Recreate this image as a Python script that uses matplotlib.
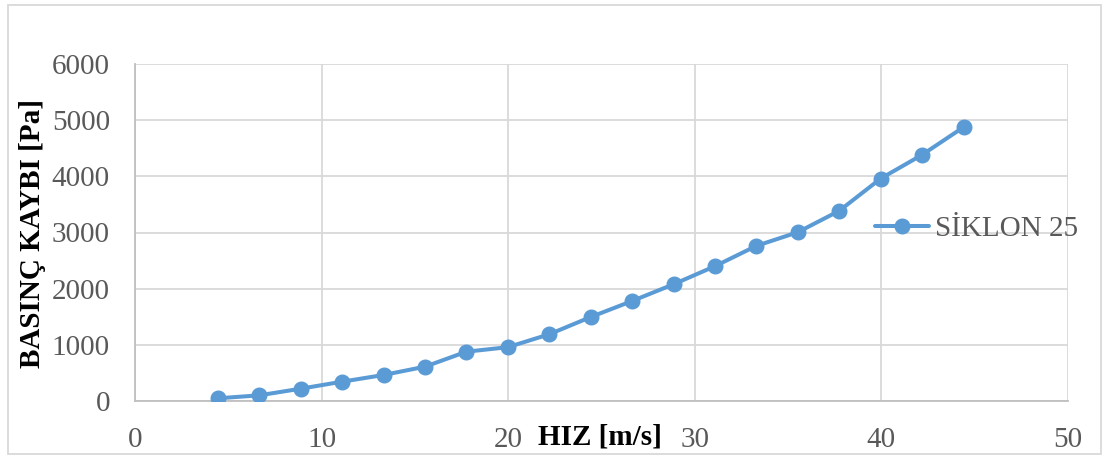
import matplotlib
matplotlib.use("Agg")
import matplotlib.pyplot as plt
from matplotlib.patches import Rectangle

velocity = [4.44, 6.66, 8.88, 11.1, 13.32, 15.54, 17.76, 19.98, 22.2, 24.42,
            26.64, 28.86, 31.08, 33.3, 35.52, 37.74, 39.96, 42.18, 44.4]
pressure = [48, 101, 219, 344, 463, 611, 878, 958, 1188, 1495,
            1780, 2078, 2400, 2762, 3005, 3386, 3960, 4383, 4875]
series_name = "SİKLON 25"
x_ticks = [0, 10, 20, 30, 40, 50]
y_ticks = [0, 1000, 2000, 3000, 4000, 5000, 6000]

plt.rcParams['font.family'] = ['Liberation Serif', 'DejaVu Serif']

W, H = 1109, 457
fig = plt.figure(figsize=(W/100, H/100), dpi=100)
ax = fig.add_axes([135/W, 1-401/H, (1068-135)/W, (401-64)/H])

line, = ax.plot(velocity, pressure, color='#5B9BD5', lw=2.9, marker='o',
                markersize=10.5, markerfacecolor='#5B9BD5', markeredgecolor='#5B9BD5',
                solid_capstyle='round', zorder=3)

ax.set_xlim(0, 50)
ax.set_ylim(0, 6000)
ax.set_xticks(x_ticks)
ax.set_yticks(y_ticks)
ax.grid(True, color='#D9D9D9', lw=1.3)
ax.set_axisbelow(True)
for s in ['top', 'right']:
    ax.spines[s].set_visible(False)
for s in ['left', 'bottom']:
    ax.spines[s].set_color('#BFBFBF')
    ax.spines[s].set_linewidth(1.3)
ax.tick_params(length=0, labelsize=21, labelcolor='#595959')
ax.tick_params(axis='x', pad=19)
ax.tick_params(axis='y', pad=18)

fig.text(600/W, 1-437/H, "HIZ [m/s]", fontsize=21, fontweight='bold',
         ha='center', va='center', color='black')
fig.text(33/W, 1-233/H, "BASINÇ KAYBI [Pa]", fontsize=21, fontweight='bold',
         rotation=90, ha='center', va='center', color='black')

leg = fig.legend([line], [series_name], loc='center left',
                 bbox_to_anchor=(875/W, 1-229/H), frameon=False, fontsize=21,
                 handlelength=1.85, handletextpad=0.2, borderaxespad=0,
                 borderpad=0)
for t in leg.get_texts():
    t.set_color('#595959')

fig.patches.append(Rectangle((8/W, 3/H), (1101-8)/W, (452-3)/H,
                             transform=fig.transFigure, fill=False,
                             edgecolor='#D9D9D9', lw=1.3))

fig.savefig("out.png", dpi=100)
